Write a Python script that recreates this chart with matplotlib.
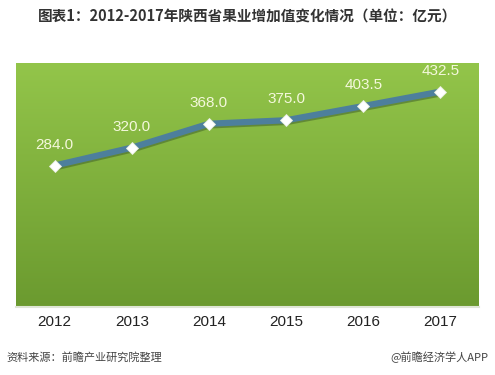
import matplotlib
matplotlib.use("Agg")
import matplotlib.pyplot as plt
import matplotlib.patheffects as pe
import numpy as np
from matplotlib.colors import LinearSegmentedColormap

plt.rcParams["font.family"] = ["Noto Sans CJK SC", "DejaVu Sans"]

YEARS = ["2012", "2013", "2014", "2015", "2016", "2017"]
VALUES = [284.0, 320.0, 368.0, 375.0, 403.5, 432.5]
TITLE = "图表1：2012-2017年陕西省果业增加值变化情况（单位：亿元）"
SOURCE = "资料来源：前瞻产业研究院整理"
CREDIT = "@前瞻经济学人APP"

fig = plt.figure(figsize=(4.95, 3.75), dpi=100)
ax = fig.add_axes([16 / 495, 1 - 307 / 375, 463 / 495, 244 / 375])

x = np.arange(len(YEARS))
ax.set_xlim(-0.5, len(YEARS) - 0.5)
ax.set_ylim(0, 490)

# green vertical gradient background
cmap = LinearSegmentedColormap.from_list("g", ["#6b9a2f", "#93c54a"])
grad = np.linspace(0, 1, 256).reshape(-1, 1)
ax.imshow(grad, cmap=cmap, origin="lower", aspect="auto",
          extent=(-0.5, len(YEARS) - 0.5, 0, 490), zorder=0)
ax.axhline(0, color="#dfe6d6", lw=1.5, zorder=1, clip_on=False)

ax.plot(x, VALUES, color="#4d7f9c", lw=4.5, solid_joinstyle="round", solid_capstyle="round",
        zorder=2, path_effects=[pe.SimpleLineShadow(offset=(0.8, -1.2), shadow_color="#3c5a2a", alpha=0.5),
                                pe.Normal()])
ax.plot(x, VALUES, ls="none", marker="D", ms=6.5, mfc="white", mec="#e8eee0", mew=0.6, zorder=3)

for xi, v in zip(x, VALUES):
    ax.annotate(f"{v:.1f}", (xi, v), xytext=(0, 10), textcoords="offset points", ha="center", va="bottom",
                fontsize=11, color="#f4f8dc", family=["Liberation Sans", "DejaVu Sans"], zorder=4)

ax.set_xticks(x)
ax.set_xticklabels(YEARS, fontsize=11, color="#222222", family=["Liberation Sans", "DejaVu Sans"])
ax.tick_params(axis="x", length=0, pad=6)
ax.set_yticks([])
for s in ax.spines.values():
    s.set_visible(False)

fig.text(0.5, 1 - 17 / 375, TITLE, ha="center", va="center", fontsize=10.5, fontweight="bold", color="#333333")
fig.text(6 / 495, 1 - 357 / 375, SOURCE, ha="left", va="center", fontsize=8, color="#444444", style="italic")
fig.text(488 / 495, 1 - 357 / 375, CREDIT, ha="right", va="center", fontsize=8, color="#444444")

fig.savefig("out.png", dpi=100)
